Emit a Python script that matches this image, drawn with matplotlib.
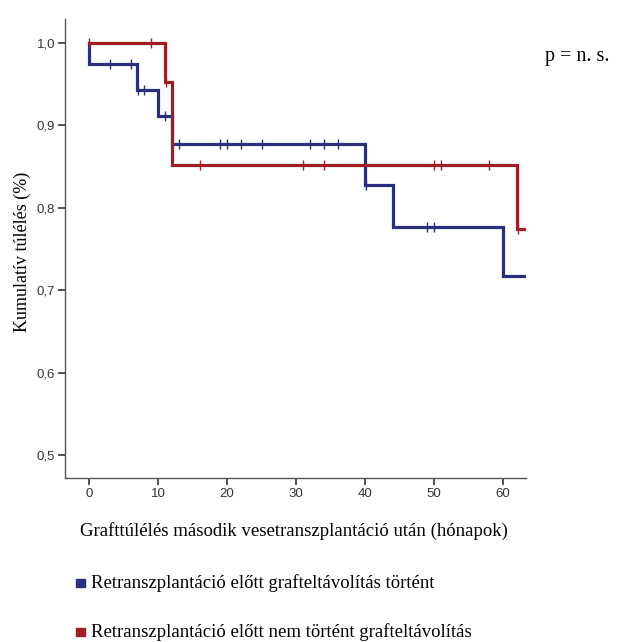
import numpy as np
import matplotlib.pyplot as plt

# Kaplan-Meier lépcsők (hónap, kumulatív túlélés)
blue_event_t = [0, 7, 10, 12, 40, 44, 60]
blue_surv = [0.974, 0.943, 0.911, 0.877, 0.828, 0.776, 0.717]
blue_censor_t = [3, 6, 7.1, 8, 11, 13, 19, 20, 22, 25, 32, 34, 36, 40.1, 49, 50]

red_event_t = [11, 12, 62]
red_surv = [0.952, 0.852, 0.774]
red_censor_t = [0, 9, 11.2, 16, 31, 34, 50, 51, 58, 62.1]

x_ticks = [0, 10, 20, 30, 40, 50, 60]
y_ticks = [0.5, 0.6, 0.7, 0.8, 0.9, 1.0]
y_ticklabels = ['0,5', '0,6', '0,7', '0,8', '0,9', '1,0']

legend_labels = ['Retranszplantáció előtt grafteltávolítás történt',
                 'Retranszplantáció előtt nem történt grafteltávolítás']

BLUE = '#2a2e7c'
RED = '#a11d24'
X_END = 63.3


def km_curve(event_t, surv):
    x = np.array([0] + list(event_t) + [X_END], dtype=float)
    y = np.array([1.0] + list(surv) + [surv[-1]], dtype=float)
    return x, y


def value_at(event_t, surv, t):
    idx = np.searchsorted(event_t, t, side='right')
    vals = np.concatenate([[1.0], surv])
    return vals[idx]


fig = plt.figure(figsize=(6.41, 6.42), dpi=100)
ax = fig.add_axes([65 / 641, 1 - 478 / 642, 461 / 641, 459 / 642])

for ev, sv, cens, col in [(blue_event_t, blue_surv, blue_censor_t, BLUE),
                          (red_event_t, red_surv, red_censor_t, RED)]:
    x, y = km_curve(ev, sv)
    ax.step(x, y, where='post', color=col, lw=2.3, solid_joinstyle='miter')
    cy = [value_at(ev, sv, t) for t in cens]
    ax.plot(cens, cy, ls='none', marker='|', ms=7, mew=1.0, color=col)

ax.set_xlim(-3.5, X_END)
ax.set_ylim(0.472, 1.029)
ax.set_xticks(x_ticks)
ax.set_yticks(y_ticks)
ax.set_yticklabels(y_ticklabels)

for s in ['top', 'right']:
    ax.spines[s].set_visible(False)
for s in ['left', 'bottom']:
    ax.spines[s].set_color('#555555')
    ax.spines[s].set_linewidth(1.0)
ax.tick_params(direction='out', length=5, width=1.2, color='#333333',
               labelsize=9.5, labelcolor='#333333', pad=2)
for lab in ax.get_xticklabels() + ax.get_yticklabels():
    lab.set_family('Liberation Sans')

serif = 'Liberation Serif'
fig.text(22 / 641, 1 - 252 / 642, 'Kumulatív túlélés (%)', family=serif,
         fontsize=13, rotation=90, ha='center', va='center')
fig.text(294 / 641, 1 - 531 / 642,
         'Grafttúlélés második vesetranszplantáció után (hónapok)',
         family=serif, fontsize=13.5, ha='center', va='center')
fig.text(577 / 641, 1 - 56 / 642, 'p = n. s.', family=serif, fontsize=14.5,
         ha='center', va='center')

for i, (lab, col) in enumerate(zip(legend_labels, [BLUE, RED])):
    yy = 1 - (583 + i * 49) / 642
    fig.patches.append(plt.Rectangle((76 / 641, yy - 4 / 642), 9 / 641, 8 / 642,
                                     transform=fig.transFigure, color=col))
    fig.text(91 / 641, yy, lab, family=serif, fontsize=13.5, va='center')

fig.savefig('out.png', dpi=100)
